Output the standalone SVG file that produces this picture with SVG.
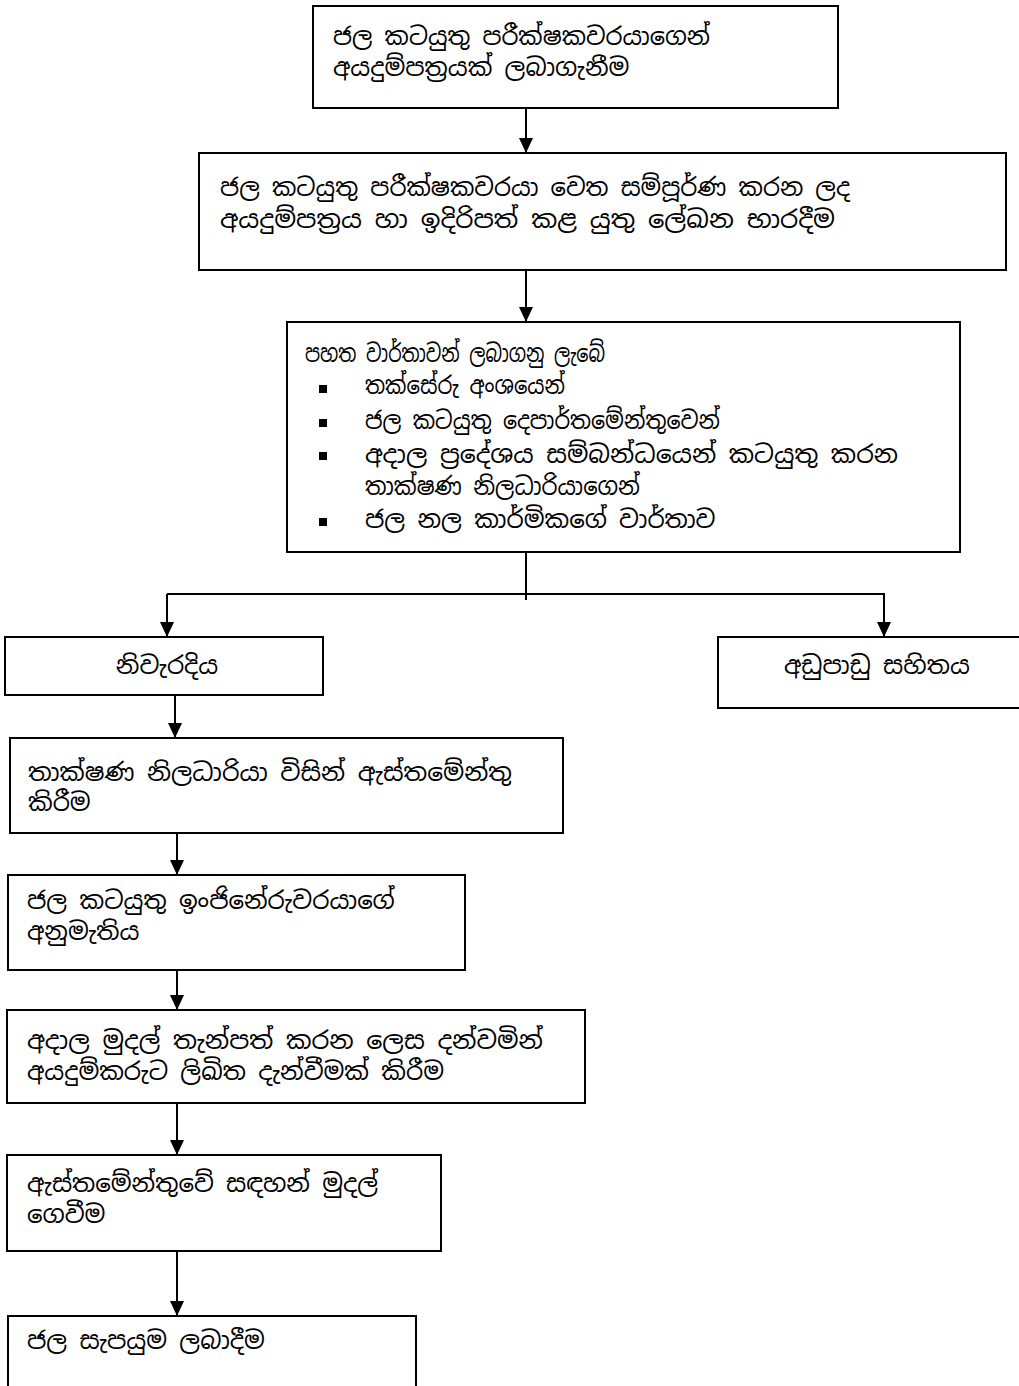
<svg xmlns="http://www.w3.org/2000/svg" width="1019" height="1386" viewBox="0 0 1019 1386">
  <style>
    .box { fill: #ffffff; stroke: #000000; stroke-width: 2; }
    .lbl { font-family: "Noto Sans Sinhala", "Noto Serif Sinhala", "Iskoola Pota", "Noto Sans", sans-serif; font-size: 24.5px; fill: #000000; }
    .mid { text-anchor: middle; }
    .wire { fill: none; stroke: #000000; stroke-width: 2; }
    .bullet { fill: #000000; }
  </style>
  <defs>
    <marker id="arrow" markerUnits="userSpaceOnUse" markerWidth="16" markerHeight="16" refX="15" refY="7" orient="auto">
      <path d="M0,0 L15,7 L0,14 Z" fill="#000000"/>
    </marker>
  </defs>
  <rect width="1019" height="1386" fill="#ffffff"/>

  <g id="connectors">
    <line class="wire" x1="526" y1="108" x2="526" y2="153" marker-end="url(#arrow)"/>
    <line class="wire" x1="526" y1="270" x2="526" y2="322" marker-end="url(#arrow)"/>
    <line class="wire" x1="526" y1="552" x2="526" y2="600"/>
    <polyline class="wire" points="167,594 884,594 884,637" marker-end="url(#arrow)"/>
    <line class="wire" x1="167" y1="594" x2="167" y2="637" marker-end="url(#arrow)"/>
    <line class="wire" x1="175" y1="695" x2="175" y2="738" marker-end="url(#arrow)"/>
    <line class="wire" x1="177" y1="833" x2="177" y2="875" marker-end="url(#arrow)"/>
    <line class="wire" x1="177" y1="970" x2="177" y2="1010" marker-end="url(#arrow)"/>
    <line class="wire" x1="177" y1="1103" x2="177" y2="1155" marker-end="url(#arrow)"/>
    <line class="wire" x1="177" y1="1251" x2="177" y2="1316" marker-end="url(#arrow)"/>
  </g>

  <g id="node-apply">
    <rect class="box" x="313" y="6" width="525" height="102"/>
    <text class="lbl" x="333" y="45" textLength="377" lengthAdjust="spacingAndGlyphs">ජල කටයුතු පරීක්ෂකවරයාගෙන්</text>
    <text class="lbl" x="333" y="76">අයදුම්පත්‍රයක් ලබාගැනීම</text>
  </g>

  <g id="node-submit">
    <rect class="box" x="199" y="153" width="807" height="117"/>
    <text class="lbl" x="220" y="196" textLength="630" lengthAdjust="spacingAndGlyphs">ජල කටයුතු පරීක්ෂකවරයා වෙත සම්පූර්ණ කරන ලද</text>
    <text class="lbl" x="220" y="228" textLength="615" lengthAdjust="spacingAndGlyphs">අයදුම්පත්‍රය හා ඉදිරිපත් කළ යුතු ලේඛන භාරදීම</text>
  </g>

  <g id="node-reports">
    <rect class="box" x="287" y="322" width="673" height="230"/>
    <text class="lbl" x="305" y="362" textLength="300" lengthAdjust="spacingAndGlyphs">පහත වාර්තාවන් ලබාගනු ලැබේ</text>
    <rect class="bullet" x="319" y="385" width="8" height="8"/>
    <text class="lbl" x="365" y="394" textLength="200" lengthAdjust="spacingAndGlyphs">තක්සේරු අංශයෙන්</text>
    <rect class="bullet" x="319" y="419" width="8" height="8"/>
    <text class="lbl" x="365" y="429" textLength="355" lengthAdjust="spacingAndGlyphs">ජල කටයුතු දෙපාර්තමේන්තුවෙන්</text>
    <rect class="bullet" x="319" y="452" width="8" height="8"/>
    <text class="lbl" x="365" y="463" textLength="533" lengthAdjust="spacingAndGlyphs">අදාල ප්‍රදේශය සම්බන්ධයෙන් කටයුතු කරන</text>
    <text class="lbl" x="365" y="495" textLength="275" lengthAdjust="spacingAndGlyphs">තාක්ෂණ නිලධාරියාගෙන්</text>
    <rect class="bullet" x="319" y="518" width="8" height="8"/>
    <text class="lbl" x="365" y="528">ජල නල කාර්මිකගේ වාර්තාව</text>
  </g>

  <g id="node-correct">
    <rect class="box" x="5" y="637" width="318" height="58"/>
    <text class="lbl mid" x="167" y="674">නිවැරදිය</text>
  </g>

  <g id="node-defective">
    <rect class="box" x="718" y="637" width="310" height="71"/>
    <text class="lbl" x="784" y="674">අඩුපාඩු සහිතය</text>
  </g>

  <g id="node-estimate">
    <rect class="box" x="10" y="738" width="553" height="95"/>
    <text class="lbl" x="28" y="781" textLength="484" lengthAdjust="spacingAndGlyphs">තාක්ෂණ නිලධාරියා විසින් ඇස්තමේන්තු</text>
    <text class="lbl" x="28" y="811">කිරීම</text>
  </g>

  <g id="node-approval">
    <rect class="box" x="8" y="875" width="457" height="95"/>
    <text class="lbl" x="27" y="909">ජල කටයුතු ඉංජිනේරුවරයාගේ</text>
    <text class="lbl" x="27" y="940">අනුමැතිය</text>
  </g>

  <g id="node-notify">
    <rect class="box" x="7" y="1010" width="578" height="93"/>
    <text class="lbl" x="27" y="1049" textLength="516" lengthAdjust="spacingAndGlyphs">අදාල මුදල් තැන්පත් කරන ලෙස දන්වමින්</text>
    <text class="lbl" x="27" y="1080">අයදුම්කරුට ලිඛිත දැන්වීමක් කිරීම</text>
  </g>

  <g id="node-payment">
    <rect class="box" x="7" y="1155" width="434" height="96"/>
    <text class="lbl" x="27" y="1192">ඇස්තමේන්තුවේ සඳහන් මුදල්</text>
    <text class="lbl" x="27" y="1223">ගෙවීම</text>
  </g>

  <g id="node-supply">
    <rect class="box" x="8" y="1316" width="408" height="80"/>
    <text class="lbl" x="27" y="1349">ජල සැපයුම ලබාදීම</text>
  </g>
</svg>
